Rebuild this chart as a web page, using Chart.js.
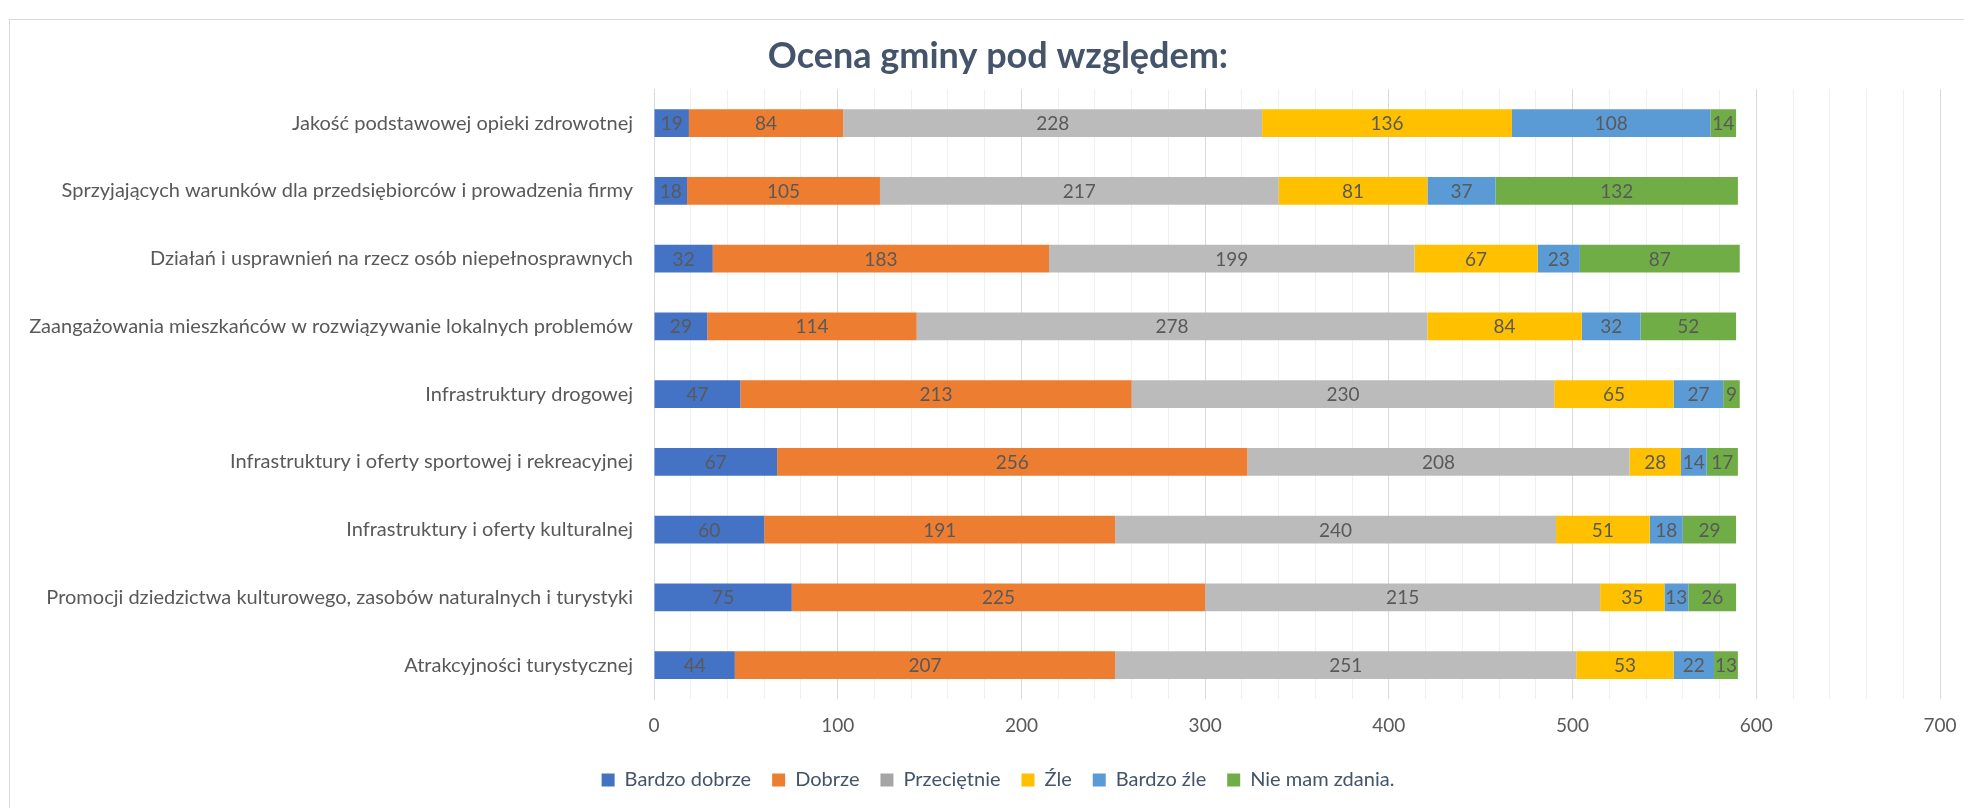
<!DOCTYPE html>
<html>
<head>
<meta charset="utf-8">
<script src="https://cdn.jsdelivr.net/npm/chart.js@4"></script>
<style>
  html, body { margin: 0; padding: 0; background: #fff; }
  #wrap { position: relative; width: 1964px; height: 808px; overflow: hidden; }
  #frame { position: absolute; left: 9px; top: 19px; width: 2100px; height: 900px;
           border-left: 1px solid #d9d9d9; border-top: 1px solid #d9d9d9; }
  canvas { position: absolute; left: 0; top: 0; }
</style>
</head>
<body>
<div id="wrap">
  <div id="frame"></div>
  <canvas id="chart" width="1964" height="808"></canvas>
</div>
<script>
const categories = [
  'Jakość podstawowej opieki zdrowotnej',
  'Sprzyjających warunków dla przedsiębiorców i prowadzenia firmy',
  'Działań i usprawnień na rzecz osób niepełnosprawnych',
  'Zaangażowania mieszkańców w rozwiązywanie lokalnych problemów',
  'Infrastruktury drogowej',
  'Infrastruktury i oferty sportowej i rekreacyjnej',
  'Infrastruktury i oferty kulturalnej',
  'Promocji dziedzictwa kulturowego, zasobów naturalnych i turystyki',
  'Atrakcyjności turystycznej'
];

const bardzoDobrze = [19, 18, 32, 29, 47, 67, 60, 75, 44];
const dobrze       = [84, 105, 183, 114, 213, 256, 191, 225, 207];
const przecietnie  = [228, 217, 199, 278, 230, 208, 240, 215, 251];
const zle          = [136, 81, 67, 84, 65, 28, 51, 35, 53];
const bardzoZle    = [108, 37, 23, 32, 27, 14, 18, 13, 22];
const nieMamZdania = [14, 132, 87, 52, 9, 17, 29, 26, 13];

const seriesNames  = ['Bardzo dobrze', 'Dobrze', 'Przeciętnie', 'Źle', 'Bardzo źle', 'Nie mam zdania.'];
const seriesValues = [bardzoDobrze, dobrze, przecietnie, zle, bardzoZle, nieMamZdania];
const barColors    = ['#4472C4', '#ED7D31', '#BBBBBB', '#FFC000', '#5B9BD5', '#70AD47'];
const legendColors = ['#4472C4', '#ED7D31', '#A5A5A5', '#FFC000', '#5B9BD5', '#70AD47'];

const xMin = 0, xMax = 700, xStep = 20;

const textGray = '#595959';
const titleBlue = '#44546A';
const FONT = 'Lato, "Liberation Sans", sans-serif';

// values written in the middle of each segment
const barLabels = {
    id: 'barLabels',
    afterDatasetsDraw(chart) {
        const { ctx } = chart;
        ctx.save();
        ctx.font = `19px ${FONT}`;
        ctx.fillStyle = textGray;
        ctx.textAlign = 'center';
        ctx.textBaseline = 'middle';
        chart.data.datasets.forEach((ds, i) => {
            chart.getDatasetMeta(i).data.forEach((bar, j) => {
                const mid = (bar.x + bar.base) / 2;
                ctx.fillText(String(ds.data[j]), mid, bar.y + 1);
            });
        });
        ctx.restore();
    }
};

// the frame in the original is offset, so nudge title and legend sideways
const nudgeBoxes = {
    id: 'nudgeBoxes',
    afterLayout(chart) {
        const t = chart.titleBlock, l = chart.legend;
        if (t) { t.left += 28; t.right += 28; }
        if (l) { l.left += 28; l.right += 28; }
    }
};

new Chart(document.getElementById('chart'), {
    type: 'bar',
    plugins: [barLabels, nudgeBoxes],
    data: {
        labels: categories,
        datasets: seriesNames.map((name, i) => ({
            label: name,
            data: seriesValues[i],
            backgroundColor: barColors[i],
            borderWidth: 0,
            categoryPercentage: 1,
            barPercentage: 0.41
        }))
    },
    options: {
        indexAxis: 'y',
        responsive: false,
        animation: false,
        layout: { padding: { left: 0, right: 24, top: 0, bottom: 8 } },
        plugins: {
            title: {
                display: true,
                text: 'Ocena gminy pod względem:',
                color: titleBlue,
                font: { family: FONT, size: 36, weight: 'bold' },
                padding: { top: 35, bottom: 11 }
            },
            legend: {
                position: 'bottom',
                labels: {
                    color: titleBlue,
                    font: { family: FONT, size: 20 },
                    boxWidth: 13,
                    boxHeight: 13,
                    padding: 21,
                    generateLabels: () => seriesNames.map((name, i) => ({
                        text: name,
                        fillStyle: legendColors[i],
                        strokeStyle: legendColors[i],
                        lineWidth: 0,
                        fontColor: titleBlue,
                        datasetIndex: i
                    }))
                }
            },
            tooltip: { enabled: false }
        },
        scales: {
            x: {
                stacked: true,
                min: xMin,
                max: xMax,
                border: { display: false },
                grid: {
                    drawTicks: false,
                    color: (c) => (c.tick && c.tick.value % 100 === 0) ? '#D9D9D9' : '#F0F0F0',
                    lineWidth: 1
                },
                ticks: {
                    stepSize: xStep,
                    autoSkip: false,
                    maxRotation: 0,
                    padding: 15,
                    color: textGray,
                    font: { family: FONT, size: 19 },
                    callback: (v) => v % 100 === 0 ? v : ''
                },
                afterFit: (scale) => {
                    scale.height = 50;
                    scale.paddingLeft = 0;
                    scale.paddingRight = 0;
                }
            },
            y: {
                stacked: true,
                border: { display: true, color: '#D9D9D9' },
                grid: { display: false, drawTicks: false },
                ticks: {
                    padding: 21,
                    color: textGray,
                    font: { family: FONT, size: 20 }
                },
                afterFit: (scale) => { scale.width = 654; }
            }
        }
    }
});
</script>
</body>
</html>
